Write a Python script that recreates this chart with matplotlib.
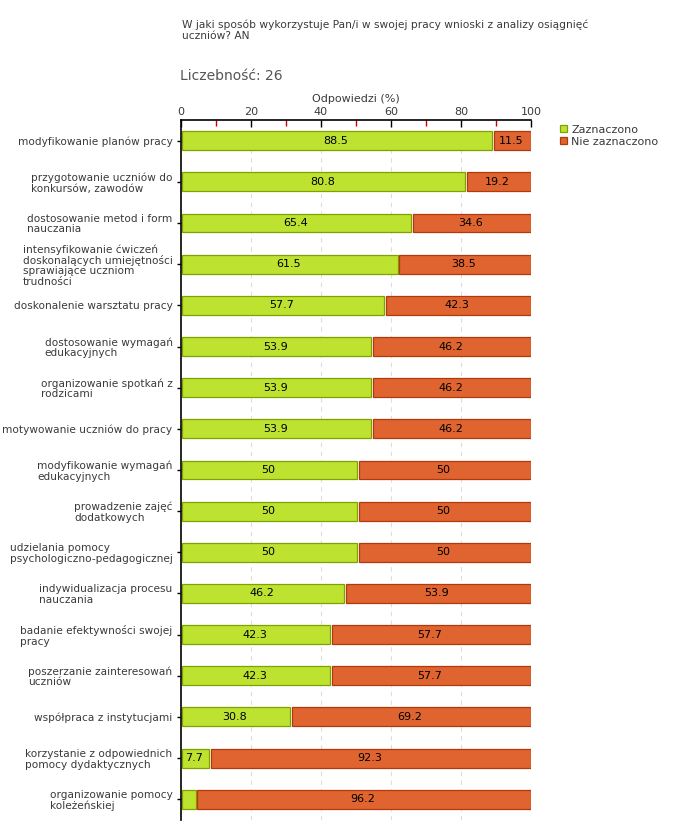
import matplotlib.pyplot as plt

# Dane z wykresu
kategorie = [
    'modyfikowanie planów pracy',
    'przygotowanie uczniów do\nkonkursów, zawodów',
    'dostosowanie metod i form\nnauczania',
    'intensyfikowanie ćwiczeń\ndoskonalących umiejętności\nsprawiające uczniom\ntrudności',
    'doskonalenie warsztatu pracy',
    'dostosowanie wymagań\nedukacyjnych',
    'organizowanie spotkań z\nrodzicami',
    'motywowanie uczniów do pracy',
    'modyfikowanie wymagań\nedukacyjnych',
    'prowadzenie zajęć\ndodatkowych',
    'udzielania pomocy\npsychologiczno-pedagogicznej',
    'indywidualizacja procesu\nnauczania',
    'badanie efektywności swojej\npracy',
    'poszerzanie zainteresowań\nuczniów',
    'współpraca z instytucjami',
    'korzystanie z odpowiednich\npomocy dydaktycznych',
    'organizowanie pomocy\nkoleżeńskiej',
]
zaznaczono = [88.5, 80.8, 65.4, 61.5, 57.7, 53.9, 53.9, 53.9, 50, 50, 50, 46.2, 42.3, 42.3, 30.8, 7.7, 3.8]
nie_zaznaczono = [11.5, 19.2, 34.6, 38.5, 42.3, 46.2, 46.2, 46.2, 50, 50, 50, 53.9, 57.7, 57.7, 69.2, 92.3, 96.2]
x_ticks = [0, 20, 40, 60, 80, 100]

tytul = 'W jaki sposób wykorzystuje Pan/i w swojej pracy wnioski z analizy osiągnięć\nuczniów? AN'
liczebnosc = 'Liczebność: 26'

plt.rcParams['font.family'] = ['DejaVu Sans']
tekst = '#3a3a3a'

fig = plt.figure(figsize=(6.8, 8.4), dpi=100)
ax = fig.add_axes([0.266, 0.024, 0.515, 0.833])

y = list(range(len(kategorie)))
przerwa = 0.9
h = 0.46

ax.barh(y, zaznaczono, height=h, color='#bde22f', edgecolor='#7ea300', linewidth=0.9,
        left=0.4, label='Zaznaczono')
ax.barh(y, [n - przerwa for n in nie_zaznaczono], height=h,
        left=[z + przerwa for z in zaznaczono], color='#e06430', edgecolor='#b03a0c',
        linewidth=0.9, label='Nie zaznaczono')

for i in y:
    if zaznaczono[i] >= 5:
        ax.text(zaznaczono[i] / 2, i, f'{zaznaczono[i]:g}', ha='center', va='center',
                fontsize=8, color='black')
    if nie_zaznaczono[i] >= 5:
        ax.text(zaznaczono[i] + nie_zaznaczono[i] / 2, i, f'{nie_zaznaczono[i]:g}',
                ha='center', va='center', fontsize=8, color='black')

ax.set_xlim(0, 100)
ax.set_ylim(len(kategorie) - 0.5, -0.5)
ax.xaxis.tick_top()
ax.xaxis.set_label_position('top')
ax.set_xticks(x_ticks)
ax.set_xticks([10, 30, 50, 70, 90], minor=True)
ax.tick_params(axis='x', which='major', direction='in', length=5, width=1, colors='black',
               labelsize=8, labelcolor=tekst, pad=2)
ax.tick_params(axis='x', which='minor', direction='in', length=4, width=1, color='#cc0000')
ax.set_xlabel('Odpowiedzi (%)', fontsize=8, color=tekst, labelpad=4)

ax.set_yticks(y)
ax.set_yticklabels(kategorie, fontsize=7.6, color=tekst, multialignment='left', linespacing=1.05)
ax.tick_params(axis='y', length=3, width=1, colors='black', labelcolor=tekst, pad=3)

for g in [20, 40, 60, 80, 100]:
    ax.axvline(g, color='#dddddd', linestyle=(0, (4, 4)), linewidth=0.8, zorder=0)

ax.spines['right'].set_visible(False)
ax.spines['bottom'].set_visible(False)
ax.spines['top'].set_linewidth(1.2)
ax.spines['left'].set_linewidth(1.2)

fig.text(0.268, 0.977, tytul, fontsize=7.7, color=tekst, va='top', linespacing=1.15)
fig.text(0.265, 0.910, liczebnosc, fontsize=10, color='#555555', va='center')

leg = ax.legend(loc='upper left', bbox_to_anchor=(1.07, 1.0), frameon=False, fontsize=8,
                handlelength=0.6, handleheight=0.6, handletextpad=0.4, labelspacing=0.2,
                borderaxespad=0)
for t in leg.get_texts():
    t.set_color(tekst)

fig.savefig('out.png', dpi=100)
